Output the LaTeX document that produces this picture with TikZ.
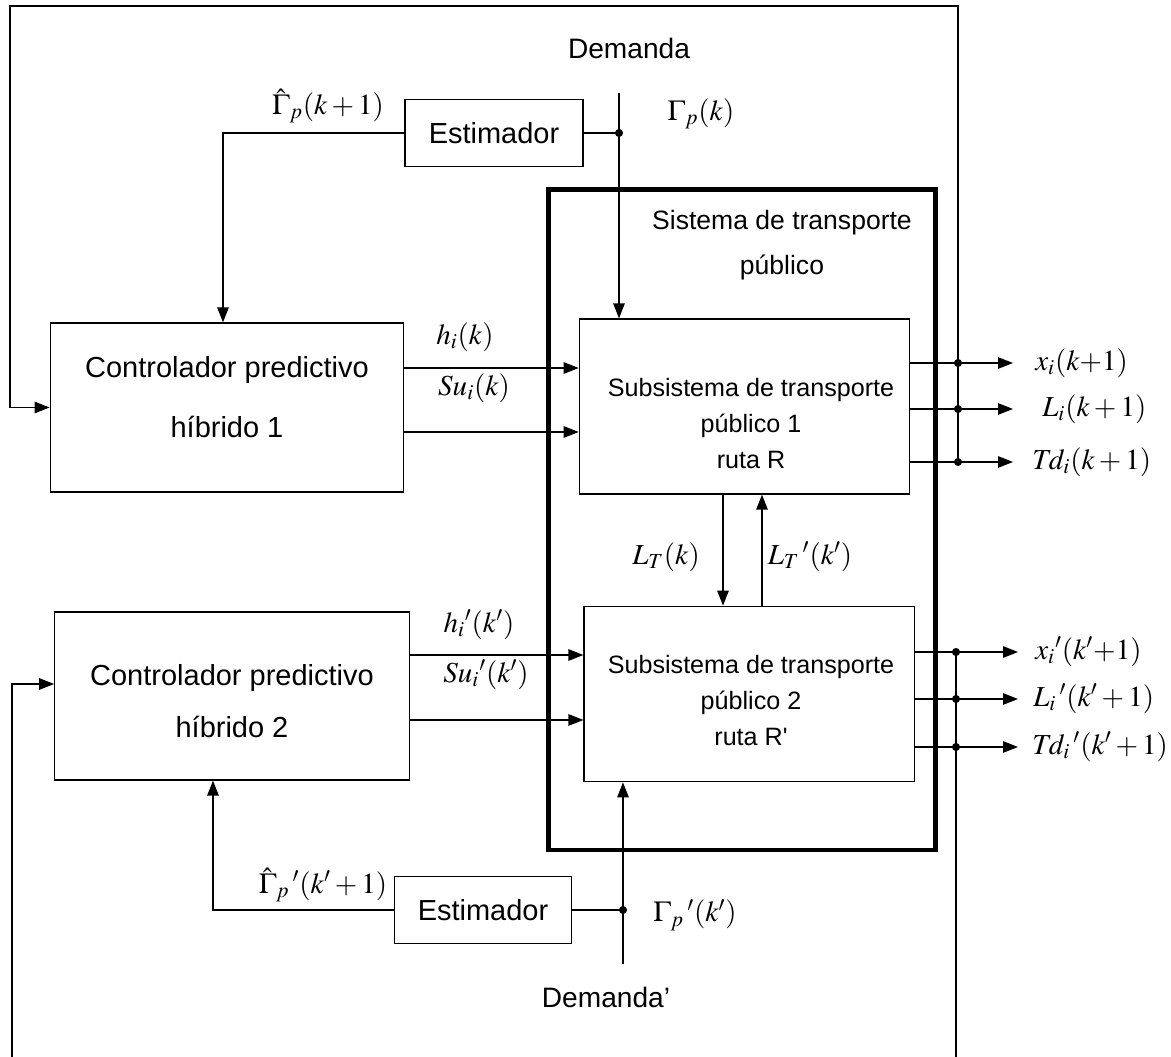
\documentclass[tikz,border=0pt]{standalone}
\usepackage{mathptmx}
\usepackage[no-math]{fontspec}
\setmainfont{Liberation Sans}
\usetikzlibrary{arrows.meta}

\tikzset{
  box/.style={draw, line width=0.75pt, inner sep=0pt, font=\fontsize{16.5pt}{20pt}\selectfont},
  sysbox/.style={draw, line width=2.8pt, inner sep=0pt},
  sig/.style={line width=0.75pt, -{Triangle[length=8.5pt,width=6.5pt]}},
  wire/.style={line width=0.75pt},
  ctrltxt/.style={inner sep=0pt, align=center, font=\fontsize{16.5pt}{29.5pt}\selectfont},
  subtxt/.style={inner sep=0pt, align=center, font=\fontsize{14.3pt}{20.5pt}\selectfont},
  plain/.style={inner sep=0pt, align=center, font=\fontsize{16pt}{26pt}\selectfont},
  lbl/.style={inner sep=0pt, font=\fontsize{16.5pt}{20pt}\selectfont},
}

\begin{document}
\begin{tikzpicture}[x=0.02cm, y=-0.02cm]
	\useasboundingbox (0,0) rectangle (1171,1057);
	
	%%%%% blocks %%%%%
	\node[sysbox, minimum width=7.73cm, minimum height=13.21cm] (sys) at (741.9,519.8) {};
	\node[plain, font=\fontsize{15.1pt}{26pt}\selectfont] (systxt) at (782,245) {Sistema de transporte\\público};
	
	\node[box, minimum width=7.06cm, minimum height=3.38cm] (ctrlA) at (226.7,407.5) {};
	\node[ctrltxt] (ctrlAtxt) at (227,397) {Controlador predictivo\\[5pt]híbrido 1};
	\node[box, minimum width=7.09cm, minimum height=3.36cm] (ctrlB) at (232,696) {};
	\node[ctrltxt] (ctrlBtxt) at (232,701) {Controlador predictivo\\híbrido 2};
	
	\node[box, minimum width=6.6cm, minimum height=3.5cm] (subA) at (744.3,406.5) {};
	\node[subtxt] (subAtxt) at (751,424) {Subsistema de transporte\\público 1\\ruta R};
	\node[box, minimum width=6.61cm, minimum height=3.51cm] (subB) at (749.3,694) {};
	\node[subtxt] (subBtxt) at (751,701) {Subsistema de transporte\\público 2\\ruta R\textquotesingle};
	
	\node[box, minimum width=3.56cm, minimum height=1.34cm] (estA) at (494,133) {Estimador};
	\node[box, minimum width=3.55cm, minimum height=1.34cm] (estB) at (483,910) {Estimador};
	
	%%%%% helper points %%%%%
	\coordinate (dA) at (619,93);
	\coordinate (dB) at (623,964);
	\coordinate (fbA) at (223,0);
	\coordinate (fbB) at (213,0);
	\coordinate (ltA) at (723,0);
	\coordinate (ltB) at (762,0);
	\coordinate (tipA) at (1013,0);
	\coordinate (tipB) at (1018,0);
	\coordinate (topR) at (958,6);
	\coordinate (topL) at (10,6);
	\coordinate (botR) at (956,1057);
	\coordinate (botL) at (12,1057);
	
	%%%%% demand and estimators %%%%%
	\draw[sig] (dA) -- (dA |- subA.north);
	\draw[wire] (estA.east) -- (estA.east -| dA) coordinate (jA);
	\fill (jA) circle (2.3pt);
	\draw[sig] (estA.west) -| (ctrlA.north -| fbA);
	
	\draw[sig] (dB) -- (dB |- subB.south);
	\draw[wire] (estB.east) -- (estB.east -| dB) coordinate (jB);
	\fill (jB) circle (2.3pt);
	\draw[sig] (estB.west) -| (ctrlB.south -| fbB);
	
	%%%%% controls %%%%%
	\draw[sig] ([yshift=0.79cm]ctrlA.east) coordinate (hA) -- (hA -| subA.west);
	\draw[sig] ([yshift=-0.49cm]ctrlA.east) coordinate (sA) -- (sA -| subA.west);
	\draw[sig] ([yshift=0.82cm]ctrlB.east) coordinate (hB) -- (hB -| subB.west);
	\draw[sig] ([yshift=-0.48cm]ctrlB.east) coordinate (sB) -- (sB -| subB.west);
	
	%%%%% transfer between routes %%%%%
	\draw[sig] (subA.south -| ltA) -- (subB.north -| ltA);
	\draw[sig] (subB.north -| ltB) -- (subA.south -| ltB);
	
	%%%%% outputs %%%%%
	\draw[sig] ([yshift=0.87cm]subA.east) coordinate (xA) -- (xA -| tipA);
	\draw[sig] ([yshift=-0.05cm]subA.east) coordinate (lA) -- (lA -| tipA);
	\draw[sig] ([yshift=-1.11cm]subA.east) coordinate (tA) -- (tA -| tipA);
	\foreach \p in {xA,lA,tA} \fill (\p -| topR) circle (2.3pt);
	\draw[sig] (tA -| topR) -- (topR) -- (topL) |- (ctrlA.west);
	
	\draw[sig] ([yshift=0.84cm]subB.east) coordinate (xB) -- (xB -| tipB);
	\draw[sig] ([yshift=-0.10cm]subB.east) coordinate (lB) -- (lB -| tipB);
	\draw[sig] ([yshift=-1.06cm]subB.east) coordinate (tB) -- (tB -| tipB);
	\foreach \p in {xB,lB,tB} \fill (\p -| botR) circle (2.3pt);
	\draw[wire] (xB -| botR) -- (botR);
	\draw[sig] (botL) |- ([yshift=0.24cm]ctrlB.west);
	
	%%%%% labels %%%%%
	\node[plain] (demA) at (629,48) {Demanda};
	\node[plain] (demB) at (606,997) {Demanda’};
	\node[lbl] (gA) at (328,106) {$\hat{\Gamma}_p(k+1)$};
	\node[lbl] (gAin) at (701,114) {$\Gamma_p(k)$};
	\node[lbl] (gB) at (323,885) {$\hat{\Gamma}_p\,{}'(k'+1)$};
	\node[lbl] (gBin) at (695,915) {$\Gamma_p\,{}'(k')$};
	\node[lbl] (hAl) at (465,337) {$h_i(k)$};
	\node[lbl] (sAl) at (474,388) {$Su_i(k)$};
	\node[lbl] (hBl) at (479,625) {$h_i{}'(k')$};
	\node[lbl] (sBl) at (486,675) {$Su_i{}'(k')$};
	\node[lbl] (ltAl) at (666,557) {$L_T(k)$};
	\node[lbl] (ltBl) at (810,557) {$L_T\,{}'(k')$};
	\node[lbl, anchor=west] (xAl) at (1035,363) {$x_i(k{+}1)$};
	\node[lbl, anchor=west] (lAl) at (1042,409) {$L_i(k+1)$};
	\node[lbl, anchor=west] (tAl) at (1032,462) {$T\!d_i(k+1)$};
	\node[lbl, anchor=west] (xBl) at (1035,652) {$x_i{}'(k'{+}1)$};
	\node[lbl, anchor=west] (lBl) at (1033,699) {$L_i\,{}'(k'+1)$};
	\node[lbl, anchor=west] (tBl) at (1032,747) {$T\!d_i\,{}'(k'+1)$};
\end{tikzpicture}
\end{document}
